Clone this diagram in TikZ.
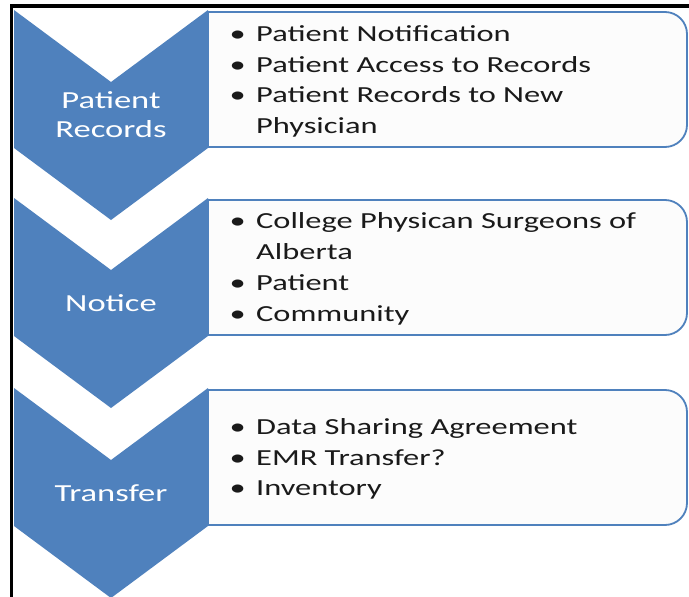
\documentclass[tikz,border=0pt]{standalone}
\usepackage{fontspec}
\setmainfont{Carlito}[FakeStretch=1.41]
\definecolor{chevblue}{HTML}{4F81BD}
\definecolor{boxfill}{HTML}{FCFCFC}
\definecolor{itemtext}{HTML}{1A1A1A}
\newcommand\bul{\makebox[26.5pt][l]{\textbullet}}
\newcommand\cont{\hspace*{26.5pt}}
\tikzset{
  chevron/.style={fill=chevblue, draw=none},
  listbox/.style={fill=boxfill, draw=chevblue, line width=1.8pt},
  steplabel/.style={text=white, align=center, inner sep=0pt,
    font=\fontsize{24.5}{29}\selectfont},
  itemlist/.style={text=itemtext, align=left, inner sep=0pt, anchor=west,
    font=\fontsize{23}{30.8}\selectfont},
  frameline/.style={black, line width=3.5pt}
}
% chevron with its top corners at height #1
\newcommand\chevronat[1]{%
  \fill[chevron] (14,#1) -- (111,#1+72) -- (208,#1) -- (208,#1+138)
    -- (111,#1+210) -- (14,#1+138) -- cycle;}
% panel with rounded right corners, spanning heights #1 to #2
\newcommand\panelat[2]{%
  \draw[listbox] (208,#1) -- (665,#1)
    .. controls (677.1,#1) and (687,#1+9.9) .. (687,#1+22)
    -- (687,#2-22)
    .. controls (687,#2-9.9) and (677.1,#2) .. (665,#2)
    -- (208,#2) -- cycle;}
\begin{document}
\begin{tikzpicture}[x=1pt,y=-1pt]
\useasboundingbox (0,0) rectangle (689,597);
\fill[white] (0,0) rectangle (689,597);
\begin{scope}
\clip (0,0) rectangle (689,597);

% panels
\panelat{12}{147}
\panelat{200}{335}
\panelat{390}{525}

% chevrons
\chevronat{10}
\chevronat{198}
\chevronat{388}

% step labels
\node[steplabel] (records) at (111,115) {Patient\\Records};
\node[steplabel] (notice) at (111,303.5) {Notice};
\node[steplabel] (transfer) at (111,493) {Transfer};

% item lists
\node[itemlist] (list1) at (229.5,81.5) {\bul Patient Notification\\
  \bul Patient Access to Records\\
  \bul Patient Records to New\\
  \cont Physician};
\node[itemlist] (list2) at (229.5,269) {\bul College Physican Surgeons of\\
  \cont Alberta\\
  \bul Patient\\
  \bul Community};
\node[itemlist] (list3) at (229.5,459) {\bul Data Sharing Agreement\\
  \bul EMR Transfer?\\
  \bul Inventory};

% frame
\draw[frameline] (11.5,597) -- (11.5,6) -- (689,6);
\end{scope}
\end{tikzpicture}
\end{document}
